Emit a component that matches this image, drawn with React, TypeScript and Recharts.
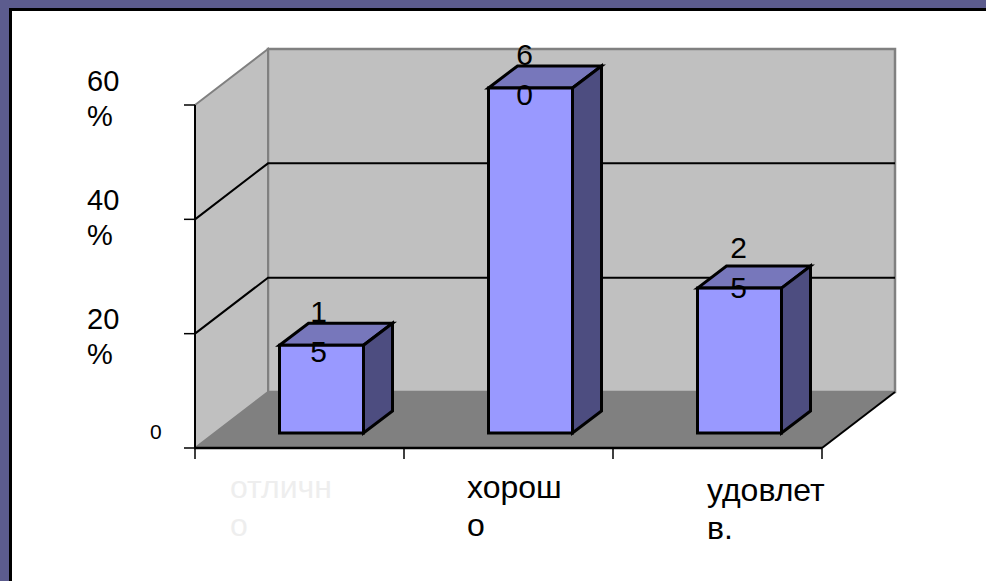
import { Bar, BarChart, CartesianGrid, LabelList, XAxis, YAxis } from 'recharts';

const categories = ['отличн|о', 'хорош|о', 'удовлет|в.'];
const values = [15, 60, 25];
const valueTicks = [0, 20, 40, 60];

const W = 986;
const H = 581;
const FONT = '"Liberation Sans", Arial, sans-serif';

// plot rectangle = the front plane of the fake 3D box
const LEFT = 195;
const TOP = 105;
const RIGHT = 822;
const BOTTOM = 448;
const BAND = (RIGHT - LEFT) / categories.length;

// depth of the box and of the bars
const BOX_DX = 73;
const BOX_DY = 56;
const BAR_DX = 29;
const BAR_DY = 22;
const BAR_SHIFT_X = 21.5;
const BAR_SHIFT_Y = 15;

// the original's labels are not centred, so each gets its own nudge
const catLabelX = [35, 63, 94];
const catLabelY = [50, 50, 53];
const yLabelShift: Record<number, number> = { 60: -14, 40: -9, 20: -5, 0: -9 };
const barLabelDx = [-3, -6, -1];
const barLabelDy = [0, 0, -7];

const data = categories.map((name, i) => ({ name, value: values[i] }));

function pts(list: number[][]) {
  return list.map((p) => p.join(',')).join(' ');
}

function Box() {
  const bx = LEFT + BOX_DX;
  const brx = RIGHT + BOX_DX;
  const bt = TOP - BOX_DY;
  const bb = BOTTOM - BOX_DY;
  return (
    <g>
      <polygon points={pts([[bx, bt], [brx, bt], [brx, bb], [bx, bb]])} fill="#c0c0c0" stroke="#808080" strokeWidth={2.5} />
      <polygon points={pts([[LEFT, TOP], [bx, bt], [bx, bb], [LEFT, BOTTOM]])} fill="#c0c0c0" stroke="#808080" strokeWidth={2} />
      <polygon points={pts([[LEFT, BOTTOM], [bx, bb], [brx, bb], [RIGHT, BOTTOM]])} fill="#808080" />
      <line x1={RIGHT} y1={BOTTOM} x2={brx} y2={bb} stroke="#000" strokeWidth={2} />
    </g>
  );
}

// gridline bends along the side wall and then runs across the back wall
function GridLine(props: any) {
  const { y1, index } = props;
  if (y1 <= TOP + 1 || y1 >= BOTTOM - 1) return <g key={index} />;
  return (
    <polyline
      key={index}
      points={pts([[LEFT, y1], [LEFT + BOX_DX, y1 - BOX_DY], [RIGHT + BOX_DX, y1 - BOX_DY]])}
      fill="none"
      stroke="#000"
      strokeWidth={2}
    />
  );
}

function Cube(props: any) {
  const { x, y, width, height } = props;
  const l = x + BAR_SHIFT_X;
  const r = l + width;
  const t = y - BAR_SHIFT_Y - 2;
  const b = y + height - BAR_SHIFT_Y;
  const common = { stroke: '#000', strokeWidth: 3, strokeLinejoin: 'miter' as const };
  return (
    <g>
      <polygon points={pts([[l, t], [l + BAR_DX, t - BAR_DY], [r + BAR_DX, t - BAR_DY], [r, t]])} fill="#7777bb" {...common} />
      <polygon points={pts([[r, t], [r + BAR_DX, t - BAR_DY], [r + BAR_DX, b - BAR_DY], [r, b]])} fill="#4d4d80" {...common} />
      <rect x={l} y={t} width={width} height={b - t} fill="#9999ff" {...common} />
    </g>
  );
}

function BarLabel(props: any) {
  const { x, y, width, value, index } = props;
  const cx = x + BAR_SHIFT_X + width / 2 + barLabelDx[index];
  const top = y - BAR_SHIFT_Y - 2 + barLabelDy[index];
  const chars = String(value).split('');
  return (
    <g fontFamily={FONT} fontSize={30} fill="#000" textAnchor="middle">
      <text x={cx} y={top - 23}>{chars[0]}</text>
      <text x={cx} y={top + 17}>{chars[1]}</text>
    </g>
  );
}

function ValueTick(props: any) {
  const { y, payload } = props;
  const v = payload.value;
  const base = y + yLabelShift[v];
  if (v === 0) {
    return <text x={150} y={base} fontFamily={FONT} fontSize={21} fill="#000">0</text>;
  }
  return (
    <g fontFamily={FONT} fontSize={29} fill="#000">
      <text x={87} y={base}>{v}</text>
      <text x={87} y={base + 35}>%</text>
    </g>
  );
}

function CategoryTick(props: any) {
  const { x, payload, index } = props;
  const start = x - BAND / 2;
  const [a, b] = String(payload.value).split('|');
  const tx = start + catLabelX[index];
  const ty = BOTTOM + catLabelY[index];
  const color = index === 0 ? '#eeeeee' : '#000';
  return (
    <g>
      <line x1={start} y1={BOTTOM} x2={start} y2={BOTTOM + 11} stroke="#000" strokeWidth={1.5} />
      {index === categories.length - 1 && (
        <line x1={start + BAND} y1={BOTTOM} x2={start + BAND} y2={BOTTOM + 11} stroke="#000" strokeWidth={1.5} />
      )}
      <g fontFamily={FONT} fontSize={32} fill={color}>
        <text x={tx} y={ty}>{a}</text>
        <text x={tx} y={ty + 38}>{b}</text>
      </g>
    </g>
  );
}

export default function App() {
  return (
    <div style={{ position: 'absolute', left: 0, top: 0, width: W, height: H, background: '#5c5c8e', overflow: 'hidden' }}>
      <div style={{ position: 'absolute', left: 9, top: 8, width: W, height: H, background: '#fff', border: '3px solid #000' }} />
      <div style={{ position: 'absolute', left: 0, top: 0 }}>
        <BarChart
          width={W}
          height={H}
          data={data}
          barSize={84}
          margin={{ top: TOP, right: W - RIGHT, bottom: 0, left: 0 }}
        >
          <Box />
          <CartesianGrid vertical={false} horizontal={GridLine} zIndex={100} />
          <XAxis
            dataKey="name"
            height={H - BOTTOM}
            tickLine={false}
            axisLine={{ stroke: '#000', strokeWidth: 2.5 }}
            interval={0}
            tick={(p: any) => <CategoryTick {...p} />}
          />
          <YAxis
            width={LEFT}
            domain={[0, 60]}
            ticks={valueTicks}
            tickSize={11}
            tickLine={{ stroke: '#000', strokeWidth: 1.5 }}
            axisLine={{ stroke: '#000', strokeWidth: 2 }}
            tick={(p: any) => <ValueTick {...p} />}
          />
          <Bar dataKey="value" isAnimationActive={false} shape={(p: any) => <Cube {...p} />}>
            <LabelList dataKey="value" content={(p: any) => <BarLabel {...p} />} />
          </Bar>
        </BarChart>
      </div>
    </div>
  );
}
